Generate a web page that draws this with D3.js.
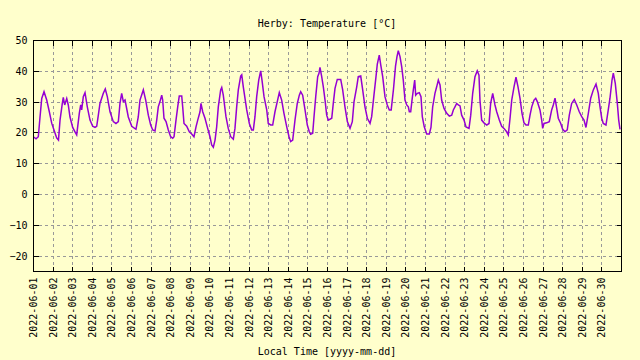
<!DOCTYPE html>
<html>
<head>
<meta charset="utf-8">
<script src="https://cdn.jsdelivr.net/npm/d3@7/dist/d3.min.js"></script>
<style>
  html, body { margin: 0; padding: 0; background: #FFFFCC; }
  svg { display: block; }
  text { font-family: "DejaVu Sans Mono", monospace; font-size: 10px; fill: #000; }
</style>
</head>
<body>
<svg id="chart" width="640" height="360"></svg>
<script>
// ---- data ----
const title = "Herby: Temperature [°C]";
const xAxisTitle = "Local Time [yyyy-mm-dd]";
const startTime = "2022-06-01T00:00:00";
const endTime = "2022-07-01T00:00:00";
const yTicks = [-20, -10, 0, 10, 20, 30, 40, 50];
const dayLabels = ["2022-06-01","2022-06-02","2022-06-03","2022-06-04","2022-06-05","2022-06-06",
  "2022-06-07","2022-06-08","2022-06-09","2022-06-10","2022-06-11","2022-06-12","2022-06-13",
  "2022-06-14","2022-06-15","2022-06-16","2022-06-17","2022-06-18","2022-06-19","2022-06-20",
  "2022-06-21","2022-06-22","2022-06-23","2022-06-24","2022-06-25","2022-06-26","2022-06-27",
  "2022-06-28","2022-06-29","2022-06-30"];
// hours since 2022-06-01 00:00 local time
const hours = [
  0.4,3.7,6.5,8.6,10.7,13.5,16.8,20.0,22.9,25.7,29.0,31.2,33.1,35.9,37.1,38.8,41.3,43.2,45.3,48.6,
  51.4,53.5,56.7,58.4,59.6,61.6,63.7,66.5,69.8,73.1,75.9,78.0,80.0,82.0,86.1,88.5,91.0,94.3,98.3,101.6,
  104.5,106.5,108.6,110.6,112.7,116.7,120.9,126.1,128.9,131.0,135.1,138.0,141.2,144.1,146.6,149.4,151.5,153.4,155.5,157.6,
  158.8,160.4,162.9,165.7,168.6,171.1,172.7,175.1,177.2,179.1,182.1,183.3,184.9,188.2,191.4,194.3,197.1,199.6,201.7,204.5,
  205.7,207.8,210.6,213.4,216.7,218.8,220.8,222.9,224.9,226.9,229.8,231.1,233.0,236.3,239.1,242.1,245.3,247.3,249.4,251.4,
  254.3,255.6,257.5,261.7,264.9,267.8,269.8,271.8,273.9,276.4,278.8,280.4,282.9,286.2,288.1,291.1,293.5,296.3,299.1,301.6,
  304.5,307.3,310.7,313.5,315.5,318.0,320.8,323.6,326.1,327.8,330.2,333.1,335.9,338.3,340.0,342.5,344.1,346.2,348.6,350.2,
  351.4,353.5,355.5,357.6,359.6,361.6,365.8,367.7,369.8,372.6,376.8,379.2,382.0,384.9,388.2,391.0,393.1,396.4,398.3,401.3,
  403.7,406.5,409.4,412.7,414.7,417.5,420.0,421.6,424.0,425.8,428.2,431.0,433.8,436.3,438.6,441.4,443.9,445.7,447.3,449.4,
  451.5,453.4,455.5,457.6,459.6,460.8,462.5,464.1,465.7,467.4,468.6,470.6,473.0,475.1,476.7,479.1,482.1,485.3,487.3,489.4,
  492.2,494.3,496.3,498.4,500.4,503.3,506.6,509.8,512.7,514.7,516.7,518.8,520.8,522.9,524.9,527.8,530.2,533.9,536.0,538.4,
  541.2,544.0,546.1,547.3,549.4,552.2,555.6,558.4,560.4,562.9,565.7,567.8,571.0,573.9,576.7,580.0,582.0,584.1,586.2,589.0,
  591.4,593.9,596.3,598.8,601.2,603.7,606.5,608.6,610.7,613.5,615.6,617.5,620.8,622.9,624.1,625.7,629.0,632.2,635.1,637.1,
  639.2,641.3,643.2,646.2,648.6,651.4,654.2,656.7,659.6,662.8,665.8,668.9,671.9,674.7,677.1,680.0,682.9,686.1,689.4,692.2,
  694.3,696.4,698.3,701.6,704.4,706.5,709.0,710.6,713.0,715.5,717.2,718.8
];
const temps = [
  18.6,17.9,18.6,25.0,31.0,33.2,30.5,26.7,23.0,20.8,18.2,17.5,24.0,29.4,31.4,28.9,31.0,28.9,25.0,21.6,
  20.2,19.2,26.2,28.9,27.3,31.6,32.9,28.3,24.0,22.0,21.6,22.0,25.6,29.4,32.7,34.1,31.6,26.7,23.5,22.9,
  23.5,29.4,32.7,30.0,30.5,25.0,22.0,21.0,25.0,30.5,33.8,30.5,25.6,22.4,20.8,20.5,24.0,28.3,30.0,32.1,
  30.5,24.6,23.5,20.8,18.6,18.1,18.6,24.0,28.3,31.8,31.8,28.3,22.9,22.0,20.2,19.5,18.6,21.8,24.0,26.7,
  29.4,26.7,24.6,21.8,18.6,15.9,15.2,17.5,21.8,28.3,33.8,34.6,32.1,25.1,21.3,18.6,17.8,21.3,28.3,33.8,
  38.3,38.7,34.8,27.3,22.9,20.8,20.8,25.1,31.6,37.0,40.0,37.0,31.6,27.3,22.9,22.4,22.4,26.7,30.0,32.9,
  30.5,26.2,21.8,18.6,17.0,17.5,24.0,29.4,32.1,33.2,32.1,27.3,22.4,20.2,19.4,19.7,25.1,31.6,38.1,39.2,
  41.1,38.1,34.8,30.5,25.6,24.0,24.6,29.4,34.3,37.2,37.2,33.8,28.3,23.5,21.3,23.5,30.0,34.8,38.1,38.3,
  33.8,28.3,24.6,22.9,25.1,32.1,38.1,42.2,45.1,41.9,38.1,31.6,28.9,27.3,27.3,34.0,41.5,44.6,46.5,44.6,
  41.3,37.0,30.5,28.9,28.3,26.7,26.7,30.5,33.8,37.0,32.1,32.7,32.9,31.6,25.1,21.8,19.5,19.5,21.6,28.3,
  32.7,34.8,37.0,35.4,30.5,27.8,26.2,25.3,25.6,27.3,28.3,29.4,28.9,28.6,25.6,24.0,21.8,21.3,25.6,32.7,
  38.1,40.0,38.6,30.5,24.0,23.1,22.4,22.9,29.4,32.7,28.9,26.7,24.0,22.0,21.3,20.2,19.2,24.5,30.5,34.8,
  37.9,34.8,31.1,26.2,23.1,22.4,22.4,25.6,28.3,30.5,31.1,30.0,27.3,24.0,21.3,22.9,23.1,23.5,27.3,28.9,
  31.1,27.8,24.6,22.9,21.0,20.2,20.8,25.6,29.4,30.7,28.9,26.7,25.1,24.0,21.6,26.2,31.1,33.8,35.7,32.7,
  28.3,24.6,22.9,22.4,27.3,31.1,37.0,39.2,35.9,29.4,24.0,21.0
];

// ---- layout ----
const svg = d3.select("#chart");
const W = 640, H = 360;
const m = { left: 33, right: 19, top: 40, bottom: 89 };
const x0 = m.left, x1 = W - m.right, y0 = m.top, y1 = H - m.bottom;

svg.append("rect").attr("width", W).attr("height", H).attr("fill", "#FFFFCC");

const parse = d3.isoParse;
const t0 = parse(startTime), tEnd = parse(endTime);
const x = d3.scaleTime().domain([t0, tEnd]).range([x0, x1]);
const y = d3.scaleLinear().domain([-25, 50]).range([y1, y0]);

const dayDates = dayLabels.map(s => parse(s + "T00:00:00"));
const points = hours.map((h, i) => ({ t: new Date(t0.getTime() + h * 3600e3), v: temps[i] }));

// grid
const grid = svg.append("g").attr("stroke", "#999999").attr("stroke-width", 1)
  .attr("stroke-dasharray", "3,3").attr("shape-rendering", "crispEdges");
yTicks.filter(v => v > -25 && v < 50).forEach(v => {
  grid.append("line").attr("x1", x0).attr("x2", x1)
    .attr("y1", Math.round(y(v)) + 0.5).attr("y2", Math.round(y(v)) + 0.5);
});
dayDates.slice(1).forEach(d => {
  grid.append("line").attr("y1", y0).attr("y2", y1)
    .attr("x1", Math.round(x(d)) + 0.5).attr("x2", Math.round(x(d)) + 0.5);
});

// axes
const tickLen = 5;
const axL = svg.append("g").attr("transform", `translate(${x0 + 0.5},0)`)
  .call(d3.axisLeft(y).tickValues(yTicks).tickSize(-tickLen).tickPadding(tickLen + 5).tickFormat(d3.format("d")));
const axR = svg.append("g").attr("transform", `translate(${x1 + 0.5},0)`)
  .call(d3.axisRight(y).tickValues(yTicks).tickSize(-tickLen).tickFormat(""));
const axT = svg.append("g").attr("transform", `translate(0,${y0 + 0.5})`)
  .call(d3.axisTop(x).tickValues(dayDates).tickSize(-tickLen).tickFormat(""));
const axB = svg.append("g").attr("transform", `translate(0,${y1 + 0.5})`)
  .call(d3.axisBottom(x).tickValues(dayDates).tickSize(-tickLen).tickFormat((d, i) => dayLabels[i]));
[axL, axR, axT, axB].forEach(a => {
  a.select(".domain").remove();
  a.selectAll(".tick line").attr("stroke", "#000").attr("shape-rendering", "crispEdges");
  a.selectAll("text").style("font-family", '"DejaVu Sans Mono", monospace').style("font-size", "10px").attr("fill", "#000");
});
axL.selectAll(".tick text").attr("x", -6).attr("dy", "0.35em");
axB.selectAll(".tick text")
  .attr("transform", "rotate(-90)")
  .attr("text-anchor", "end")
  .attr("x", -6).attr("y", 0).attr("dy", "0.35em");

// data line
const line = d3.line().x(d => x(d.t)).y(d => y(d.v));
svg.append("path").datum(points).attr("d", line)
  .attr("fill", "none").attr("stroke", "#9400D3").attr("stroke-width", 1.5).attr("stroke-linejoin", "miter");

// border
svg.append("rect").attr("x", x0 + 0.5).attr("y", y0 + 0.5).attr("width", x1 - x0).attr("height", y1 - y0)
  .attr("fill", "none").attr("stroke", "#000").attr("stroke-width", 1).attr("shape-rendering", "crispEdges");

// titles
svg.append("text").attr("x", (x0 + x1) / 2).attr("y", 27).attr("text-anchor", "middle").text(title);
svg.append("text").attr("x", (x0 + x1) / 2).attr("y", 355).attr("text-anchor", "middle").text(xAxisTitle);
</script>
</body>
</html>
